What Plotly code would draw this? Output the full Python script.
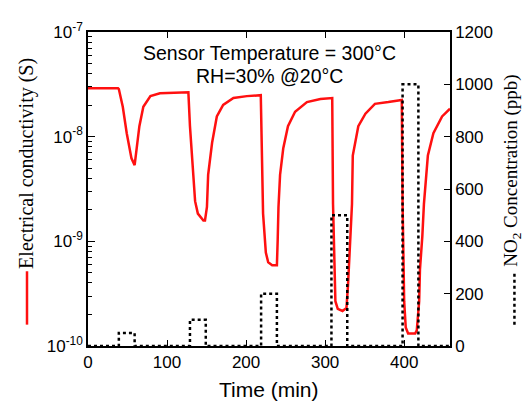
import plotly.graph_objects as go

# red curve: electrical conductivity (S) vs time (min)
time_min = [0, 38, 39, 44, 49, 55, 59, 62, 65, 70, 79, 91, 127,
            129, 132.5, 135.5, 139, 146, 148, 150.5, 152, 157, 163, 171, 184, 201, 218.6,
            220, 221.5, 225, 228, 233, 239, 240, 241, 243, 247, 253, 262, 277, 294, 309,
            310, 313, 316, 322, 327, 329, 332, 334, 335, 342, 351, 363, 380, 397,
            398, 400, 402, 405, 414, 416, 419, 420, 423, 425, 430, 437, 448, 458]
conductivity_S = [2.9e-8, 2.9e-8, 2.85e-8, 1.93e-8, 1.08e-8, 6.2e-9, 5.35e-9, 8.2e-9, 1.26e-8, 1.93e-8, 2.44e-8, 2.6e-8, 2.65e-8,
                  1.26e-8, 5.7e-9, 2.42e-9, 1.84e-9, 1.58e-9, 1.58e-9, 2.13e-9, 4.31e-9, 8.75e-9, 1.56e-8, 2.01e-8, 2.34e-8, 2.44e-8, 2.49e-8,
                  6.2e-9, 1.84e-9, 7.8e-10, 6.3e-10, 5.9e-10, 5.9e-10, 1.03e-9, 2.13e-9, 4.31e-9, 7.7e-9, 1.26e-8, 1.73e-8, 2.14e-8, 2.29e-8, 2.34e-8,
                  2.27e-9, 2.68e-10, 2.26e-10, 2.16e-10, 2.31e-10, 3.86e-10, 1.12e-9, 2.27e-9, 6.6e-9, 1.26e-8, 1.66e-8, 2.06e-8, 2.14e-8, 2.24e-8,
                  2.27e-9, 2.68e-10, 1.5e-10, 1.32e-10, 1.32e-10, 1.41e-10, 2.68e-10, 5.4e-10, 1.12e-9, 2.27e-9, 6.6e-9, 1.08e-8, 1.56e-8, 1.85e-8]

# NO2 pulses
pulse_start = [39, 129, 219, 308, 398]
pulse_end = [59, 149, 239, 328, 418]
pulse_ppb = [50, 100, 200, 500, 1000]
t_end = 458

no2_t = [0]
no2_c = [0]
for s, e, c in zip(pulse_start, pulse_end, pulse_ppb):
    no2_t += [s, s, e, e]
    no2_c += [0, c, c, 0]
no2_t.append(t_end)
no2_c.append(0)

sans = "Liberation Sans"
serif = "Liberation Serif"

fig = go.Figure()
fig.add_trace(go.Scatter(x=no2_t, y=no2_c, yaxis="y2", mode="lines",
                         line=dict(color="black", width=2.5, dash="3px,3px"), showlegend=False))
fig.add_trace(go.Scatter(x=time_min, y=conductivity_S, mode="lines",
                         line=dict(color="#ff1010", width=2.5), showlegend=False))

minor_vals = [m * 10.0 ** e for e in range(-10, -7) for m in range(2, 10)]

# the page body adds 8px at left/top, margins compensate for that
fig.update_layout(
    width=530, height=405,
    margin=dict(l=80, r=88, t=14, b=67),
    plot_bgcolor="white", paper_bgcolor="white",
    xaxis=dict(range=[0, t_end], tickvals=[0, 100, 200, 300, 400], ticks="inside", ticklen=6,
               tickcolor="black", showline=True, linecolor="black", linewidth=1.5, mirror="ticks",
               showgrid=False, zeroline=False, tickfont=dict(family=sans, size=17, color="black")),
    yaxis=dict(type="log", range=[-10, -7], tickvals=[1e-10, 1e-9, 1e-8, 1e-7],
               ticktext=["10<sup>-10</sup>", "10<sup>-9</sup>", "10<sup>-8</sup>", "10<sup>-7</sup>"],
               ticks="inside", ticklen=7, tickcolor="black",
               minor=dict(tickvals=minor_vals, ticks="inside", ticklen=4, tickcolor="black", showgrid=False),
               showline=True, linecolor="black", linewidth=1.5, showgrid=False, zeroline=False,
               tickfont=dict(family=sans, size=17, color="black")),
    yaxis2=dict(overlaying="y", side="right", range=[0, 1200], dtick=200, ticks="inside", ticklen=6,
                tickcolor="black", showline=True, linecolor="black", linewidth=1.5, showgrid=False,
                zeroline=False, tickfont=dict(family=sans, size=17, color="black")),
    annotations=[
        dict(text="Sensor Temperature = 300°C", x=0.5, y=0.932, xref="paper", yref="paper",
             xanchor="center", yanchor="middle", showarrow=False,
             font=dict(family=sans, size=19.5, color="black")),
        dict(text="RH=30% @20°C", x=0.5, y=0.861, xref="paper", yref="paper",
             xanchor="center", yanchor="middle", showarrow=False,
             font=dict(family=sans, size=19.5, color="black")),
        dict(text="Time (min)", x=0.5, y=-0.139, xref="paper", yref="paper", showarrow=False,
             xanchor="center", yanchor="middle", font=dict(family=sans, size=21, color="black")),
        dict(text="Electrical conductivity (S)", x=-0.1685, y=0.58, xref="paper", yref="paper",
             xanchor="center", yanchor="middle",
             textangle=-90, showarrow=False, font=dict(family=serif, size=20, color="black")),
        dict(text="NO<sub>2</sub> Concentration (ppb)", x=1.172, y=0.559, xref="paper", yref="paper",
             xanchor="center", yanchor="middle",
             textangle=-90, showarrow=False, font=dict(family=serif, size=19, color="black")),
    ],
    shapes=[
        dict(type="line", xref="paper", yref="paper", x0=-0.1685, x1=-0.1685, y0=0.068, y1=0.238,
             line=dict(color="#ff1010", width=2.5)),
        dict(type="line", xref="paper", yref="paper", x0=1.178, x1=1.178, y0=0.068, y1=0.235,
             line=dict(color="black", width=2.5, dash="3px,3px")),
    ],
)

fig.write_html("out.html")
